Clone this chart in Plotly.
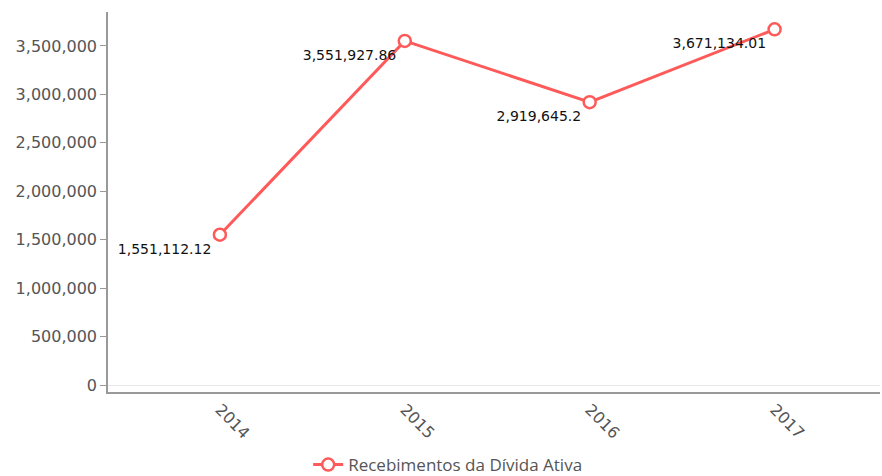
import plotly.graph_objects as go

# anos e valores recebidos
anos = ["2014", "2015", "2016", "2017"]
recebimentos = [1551112.12, 3551927.86, 2919645.2, 3671134.01]
rotulos = ["1,551,112.12", "3,551,927.86", "2,919,645.2", "3,671,134.01"]
y_ticks = [0, 500000, 1000000, 1500000, 2000000, 2500000, 3000000, 3500000]

fig = go.Figure()
fig.add_trace(go.Scatter(
    x=anos, y=recebimentos,
    mode="lines+markers+text",
    name="Recebimentos da Dívida Ativa",
    line=dict(color="#ff5a5a", width=3),
    marker=dict(size=12, color="white", line=dict(color="#ff5a5a", width=2.5)),
    text=rotulos,
    textposition="bottom left",
    textfont=dict(family="DejaVu Sans, Verdana", size=14, color="#111"),
    cliponaxis=False,
))

fig.update_layout(
    width=882, height=476,
    margin=dict(l=108, r=2, t=12, b=84),
    plot_bgcolor="white", paper_bgcolor="white",
    showlegend=True,
    legend=dict(orientation="h", x=0.44, xanchor="center",
                yref="container", y=0.023, yanchor="middle", itemwidth=30,
                font=dict(family="Open Sans, Noto Sans", size=17, color="#555")),
    xaxis=dict(type="category", range=[-0.605, 3.57], showgrid=False, zeroline=False,
               showline=True, linecolor="#999", linewidth=2, ticks="", automargin=False,
               tickangle=45, tickfont=dict(family="DejaVu Sans, Verdana", size=16, color="#555")),
    yaxis=dict(range=[-72000, 3850000], tickvals=y_ticks, tickformat=",d", automargin=False,
               showgrid=False, zeroline=True, zerolinecolor="#e6e6e6", zerolinewidth=1,
               showline=True, linecolor="#999", linewidth=1.5,
               ticks="outside", ticklen=6, tickcolor="#999",
               tickfont=dict(family="DejaVu Sans, Verdana", size=16, color="#555")),
)

# sem margem no body da pagina
fig.write_html("out.html", config={"displayModeBar": False},
               post_script="document.body.style.margin='0';")
